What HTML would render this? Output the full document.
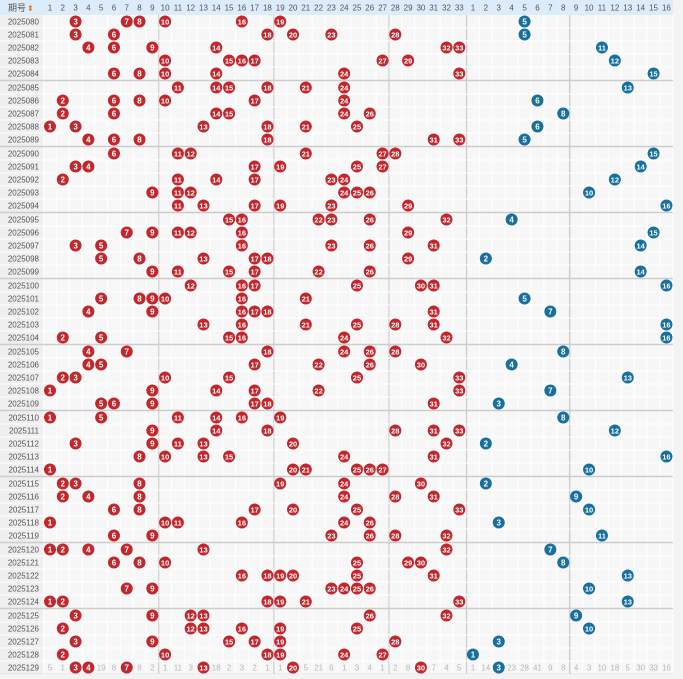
<!DOCTYPE html>
<html><head><meta charset="utf-8">
<style>
html,body{margin:0;padding:0;background:#f3f3f3;}
body{width:683px;height:674px;overflow:hidden;font-family:"Liberation Sans","Noto Sans CJK SC",sans-serif;}
svg text{font-family:"Liberation Sans","Noto Sans CJK SC",sans-serif;}
</style></head>
<body>
<svg id="chart" width="683" height="674" xmlns="http://www.w3.org/2000/svg"></svg>
<script>
const issues=[];for(let i=80;i<=129;i++)issues.push('2025'+String(i).padStart(3,'0'));
const redDraws=[
[3,7,8,10,16,19],[3,6,18,20,23,28],[4,6,9,14,32,33],[10,15,16,17,27,29],[6,8,10,14,24,33],
[11,14,15,18,21,24],[2,6,8,10,17,24],[2,6,14,15,24,26],[1,3,13,18,21,25],[4,6,8,18,31,33],
[6,11,12,21,27,28],[3,4,17,19,25,27],[2,11,14,17,23,24],[9,11,12,24,25,26],[11,13,17,19,23,29],
[15,16,22,23,26,32],[7,9,11,12,16,29],[3,5,16,23,26,31],[5,8,13,17,18,29],[9,11,15,17,22,26],
[12,16,17,25,30,31],[5,8,9,10,16,21],[4,9,16,17,18,31],[13,16,21,25,28,31],[2,5,15,16,24,32],
[4,7,18,24,26,28],[4,5,17,22,26,30],[2,3,10,15,25,33],[1,9,14,17,22,33],[5,6,9,17,18,31],
[1,5,11,14,16,19],[9,14,18,28,31,33],[3,9,11,13,20,32],[8,10,13,15,24,31],[1,20,21,25,26,27],
[2,3,8,19,24,30],[2,4,8,24,28,31],[6,8,17,20,25,33],[1,10,11,16,24,26],[6,9,23,26,28,32],
[1,2,4,7,13,32],[6,8,10,25,29,30],[16,18,19,20,25,31],[7,9,23,24,25,26],[1,2,18,19,21,33],
[3,9,12,13,26,32],[2,12,13,16,19,25],[3,9,15,17,19,28],[2,10,18,19,24,27],[3,4,7,13,20,30]];
const blueDraws=[5,5,11,12,15,13,6,8,6,5,15,14,12,10,16,4,15,14,2,14,16,5,7,16,16,8,4,13,7,3,8,12,2,16,10,2,9,10,3,11,7,8,13,10,13,9,10,3,1,3];
const lastRedMiss=[5,1,0,0,19,8,0,8,2,1,11,3,0,18,2,3,2,1,1,0,5,21,6,1,3,4,1,2,8,0,7,4,5];
const lastBlueMiss=[1,14,0,23,28,41,9,8,4,3,10,18,5,30,33,16];

const NS='http://www.w3.org/2000/svg';
const svg=document.getElementById('chart');
function mk(tag,attrs,parent){const e=document.createElementNS(NS,tag);for(const k in attrs)e.setAttribute(k,attrs[k]);(parent||svg).appendChild(e);return e;}
const HEAD=15,ROWH=13,LABW=43.6,RW=12.79,BX=466.5,BW=12.9;
const redX=n=>LABW+(n-0.5)*RW;
const blueX=n=>BX+(n-0.5)*BW;
const rowTop=i=>HEAD+i*ROWH+Math.floor(i/5);
const rowY=i=>rowTop(i)+ROWH/2;
const right=BX+16*BW;

// backgrounds
let bg=mk('rect',{x:0,y:0,width:right,height:674,fill:'#f7f7f7'});

let lb=mk('rect',{x:0,y:HEAD,width:LABW,height:674,fill:'#efefef'});

let hd=mk('rect',{x:0,y:0,width:right,height:HEAD,fill:'#dcecfa'});


// grid lines
for(let n=0;n<=33;n++){const x=LABW+n*RW;const strong=(n===9||n===18||n===27);
 mk('line',{x1:x,y1:HEAD,x2:x,y2:674,stroke:strong?'#d2d2d2':'#ffffff','stroke-width':strong?1.3:1});}
for(let n=0;n<=16;n++){const x=BX+n*BW;const strong=(n===0||n===8);
 mk('line',{x1:x,y1:HEAD,x2:x,y2:674,stroke:strong?'#cfcfcf':'#ffffff','stroke-width':strong?1.5:1});}
for(let i=0;i<50;i++){const y=rowTop(i)+ROWH;const grp=(i%5===4);
 mk('line',{x1:0,y1:y+(grp?0.5:0),x2:right,y2:y+(grp?0.5:0),stroke:grp?'#cdcdcd':'#ffffff','stroke-width':grp?1.5:1});}

// header
let ht=mk('text',{x:8,y:11,'font-size':9,fill:'#555'});ht.textContent='期号';

let ar=mk('text',{x:27,y:11,'font-size':8,fill:'#e07a2a'});ar.textContent='⬍';

for(let n=1;n<=33;n++){const t=mk('text',{x:redX(n),y:10.5,'font-size':8,fill:'#555','text-anchor':'middle'});t.textContent=n;
 }
for(let n=1;n<=16;n++){const t=mk('text',{x:blueX(n),y:10.5,'font-size':8,fill:'#555','text-anchor':'middle'});t.textContent=n;
 }

// rows
issues.forEach((iss,i)=>{
 const y=rowY(i);
 const t=mk('text',{x:39,y:y+3,'font-size':8,fill:'#555','text-anchor':'end'});t.textContent=iss;
 
 redDraws[i].forEach(n=>{
  const g=mk('g',{});
  
  mk('circle',{cx:redX(n),cy:y,r:6,fill:'#c1272d'},g);
  const tt=mk('text',{x:redX(n),y:y+3,'font-size':n>9?7.5:8,'font-weight':'bold',fill:'#fff','text-anchor':'middle'},g);tt.textContent=n;
 });
 const b=blueDraws[i];
 const g=mk('g',{});
 
 mk('circle',{cx:blueX(b),cy:y,r:6,fill:'#17709f'},g);
 const tt=mk('text',{x:blueX(b),y:y+3,'font-size':b>9?7.5:8,'font-weight':'bold',fill:'#fff','text-anchor':'middle'},g);tt.textContent=b;
});
// last row omission numbers
const li=49,ly=rowY(li)+3;
lastRedMiss.forEach((v,k)=>{if(!v)return;const t=mk('text',{x:redX(k+1),y:ly,'font-size':8,fill:'#b8b8b8','text-anchor':'middle'});t.textContent=v;
 });
lastBlueMiss.forEach((v,k)=>{if(!v)return;const t=mk('text',{x:blueX(k+1),y:ly,'font-size':8,fill:'#b8b8b8','text-anchor':'middle'});t.textContent=v;
 });
</script>
</body></html>
